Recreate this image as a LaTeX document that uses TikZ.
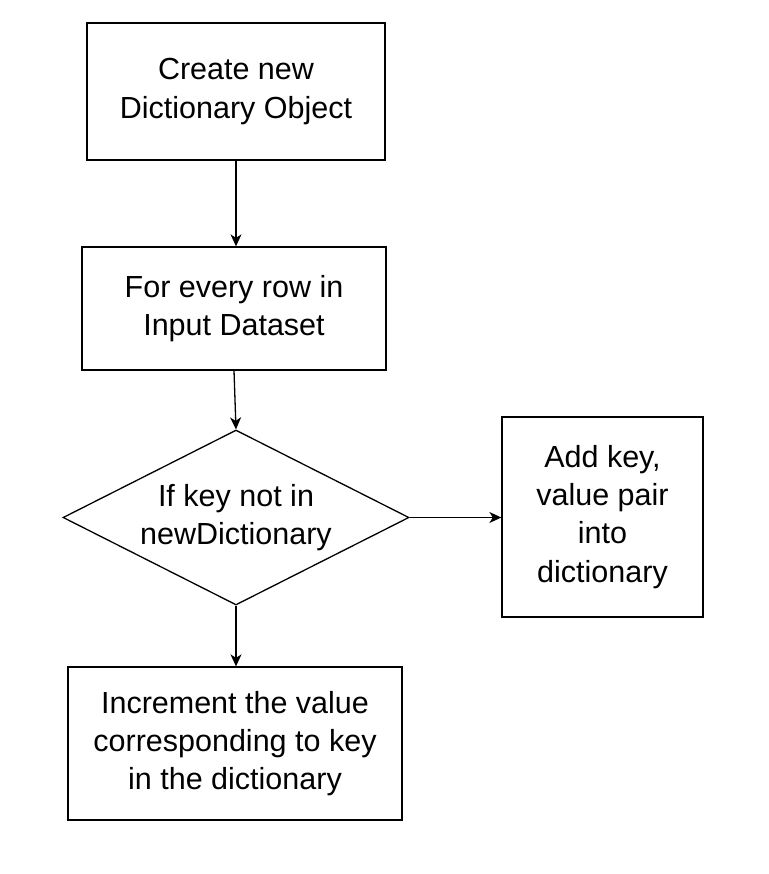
\documentclass[tikz,border=0pt]{standalone}
\usepackage{fontspec}
\setmainfont{Liberation Sans}
\usetikzlibrary{shapes.geometric, arrows.meta}

\begin{document}
\begin{tikzpicture}[x=1pt, y=-1pt,
    every node/.style={font=\fontsize{30.5}{38.2}\selectfont, align=center, inner sep=0pt},
    box/.style={draw, rectangle, line width=1.3pt},
    decision/.style={draw, diamond, aspect=2, line width=1.3pt},
    flow/.style={-{Stealth[length=12pt, width=11pt, inset=3.5pt]}, line width=1.3pt}]
    \useasboundingbox (0,0) rectangle (768,874);

    % Nodes with manual coordinates
    \node[box, minimum width=298, minimum height=137] (create) at (236,91.5) {Create new\\Dictionary Object};
    \node[box, minimum width=304, minimum height=123] (loop) at (234,308.5) {For every row in\\Input Dataset};
    \node[decision, minimum width=346, minimum height=175] (check) at (236,517.5) {If key not in\\newDictionary};
    \node[box, minimum width=201, minimum height=200] (add) at (602.5,517) {Add key,\\value pair\\into\\dictionary};
    \node[box, minimum width=334, minimum height=153] (incr) at (235,743.5) {Increment the value\\corresponding to key\\in the dictionary};

    % Edges
    \draw[flow] (create.south) -- (create.south |- loop.north);
    \draw[flow] (loop.south) -- (check.north);
    \draw[flow] (check.east) -- (add.west |- check.east);
    \draw[flow] (check.south) -- (check.south |- incr.north);
\end{tikzpicture}
\end{document}
